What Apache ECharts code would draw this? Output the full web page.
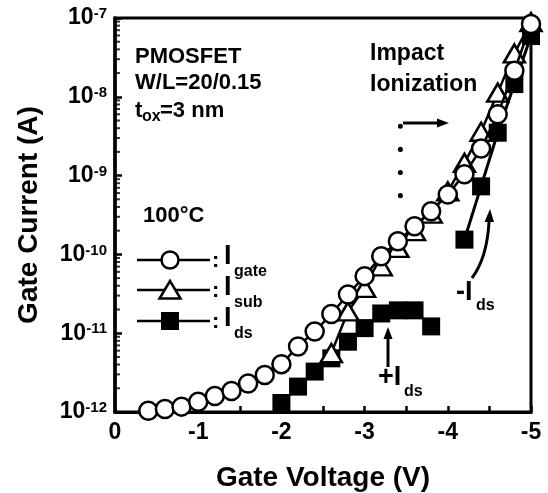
<!DOCTYPE html>
<html>
<head>
<meta charset="utf-8">
<script src="https://cdn.jsdelivr.net/npm/echarts@6/dist/echarts.min.js"></script>
<style>
  html, body { margin: 0; padding: 0; background: #fff; }
  #chart { width: 548px; height: 493px; }
</style>
</head>
<body>
<div id="chart"></div>
<script>
// Gate voltage (V) for each measured point
const gateVolts = [-0.4, -0.6, -0.8, -1.0, -1.2, -1.4, -1.6, -1.8, -2.0, -2.2, -2.4, -2.6,
    -2.8, -3.0, -3.2, -3.4, -3.6, -3.8, -4.0, -4.2, -4.4, -4.6, -4.8, -5.0];
const gateCurrent = [1.04e-12, 1.09e-12, 1.17e-12, 1.35e-12, 1.6e-12, 1.85e-12, 2.3e-12, 2.95e-12,
    4.05e-12, 6.8e-12, 1.05e-11, 1.75e-11, 3.1e-11, 5.3e-11, 9.5e-11, 1.47e-10, 2.28e-10,
    3.53e-10, 5.77e-10, 1.04e-9, 2.2e-9, 6.0e-9, 2.14e-8, 8.4e-8];

const subVolts = [-2.6, -2.8, -3.0, -3.2, -3.4, -3.6, -3.8, -4.0, -4.2, -4.4, -4.6, -4.8, -5.0];
const subCurrent = [5.6e-12, 1.89e-11, 3.75e-11, 7.06e-11, 1.21e-10, 1.97e-10, 3.3e-10, 6.3e-10,
    1.45e-9, 3.6e-9, 1.13e-8, 3.55e-8, 8.9e-8];

// +Ids branch (low bias) and -Ids branch (impact ionization)
const dsPosVolts = [-2.0, -2.2, -2.4, -2.6, -2.8, -3.0, -3.2, -3.4, -3.6, -3.8];
const dsPosCurrent = [1.3e-12, 2.1e-12, 3.26e-12, 4.8e-12, 7.8e-12, 1.16e-11, 1.78e-11, 1.95e-11, 1.95e-11, 1.22e-11];
const dsNegVolts = [-4.2, -4.4, -4.6, -4.8, -5.0];
const dsNegCurrent = [1.54e-10, 7.3e-10, 3.5e-9, 1.45e-8, 5.9e-8];

// impact ionization onset marker
const onsetVolts = [-3.43, -3.43];
const onsetCurrent = [4.23e-9, 5.43e-10];

const xTicks = [0, -1, -2, -3, -4, -5];
const yDecades = [-12, -11, -10, -9, -8, -7];
const minorMult = [2, 3, 4, 5, 6, 7, 8, 9];

const FONT = '"Liberation Sans", Arial, sans-serif';
const INK = '#000';

function pairs(xs, ys) {
    return xs.map((x, i) => [x, ys[i]]);
}

const minorTicks = [];
yDecades.slice(0, -1).forEach(e => {
    minorMult.forEach(m => minorTicks.push([0, m * Math.pow(10, e)]));
});

function txt(x, y, s, size, align) {
    return {
        type: 'text', x: x, y: y, z: 50,
        style: {
            text: s, fill: INK, align: align || 'left', verticalAlign: 'middle',
            font: 'bold ' + size + 'px ' + FONT
        }
    };
}

function line(x1, y1, x2, y2, w) {
    return {
        type: 'line', z: 50,
        shape: { x1: x1, y1: y1, x2: x2, y2: y2 },
        style: { stroke: INK, lineWidth: w || 3 }
    };
}

function head(points) {
    return { type: 'polygon', z: 50, shape: { points: points }, style: { fill: INK } };
}

const chart = echarts.init(document.getElementById('chart'), null, { renderer: 'canvas' });

const markerBase = {
    type: 'line',
    animation: false,
    clip: false,
    emphasis: { disabled: true },
    lineStyle: { color: INK, width: 2.5 }
};

chart.setOption({
    animation: false,
    backgroundColor: '#fff',
    grid: {
        left: 115, right: 17, top: 18, bottom: 81,
        containLabel: false, outerBoundsMode: 'none',
        show: true, borderColor: INK, borderWidth: 3
    },
    xAxis: {
        type: 'value', inverse: true, min: -5, max: 0, interval: 1,
        name: 'Gate Voltage (V)', nameLocation: 'middle', nameGap: 52,
        nameTextStyle: { fontFamily: FONT, fontWeight: 'bold', fontSize: 28, color: INK },
        axisLine: { show: true, lineStyle: { color: INK, width: 3 } },
        axisTick: { inside: true, length: 6, lineStyle: { color: INK, width: 2.5 } },
        minorTick: { show: true, splitNumber: 2, length: 6, lineStyle: { color: INK, width: 2.5 } },
        splitLine: { show: false },
        axisLabel: {
            margin: 9, fontFamily: FONT, fontWeight: 'bold', fontSize: 23, color: INK,
            formatter: v => xTicks.indexOf(v) >= 0 ? String(v) : ''
        }
    },
    yAxis: {
        type: 'log', logBase: 10, min: 1e-12, max: 1e-7,
        name: 'Gate Current (A)', nameLocation: 'middle', nameGap: 72,
        nameTextStyle: { fontFamily: FONT, fontWeight: 'bold', fontSize: 28, color: INK },
        axisLine: { show: true, lineStyle: { color: INK, width: 3.5 } },
        axisTick: { inside: true, length: 7, lineStyle: { color: INK, width: 2.5 } },
        splitLine: { show: false },
        axisLabel: {
            margin: 8,
            formatter: v => '{b|10}{s|' + Math.round(Math.log10(v)) + '}',
            rich: {
                b: { fontFamily: FONT, fontWeight: 'bold', fontSize: 23, color: INK },
                s: { fontFamily: FONT, fontWeight: 'bold', fontSize: 15, color: INK, verticalAlign: 'top' }
            }
        }
    },
    series: [
        {
            // log-scale minor ticks on the left axis
            type: 'scatter', name: 'minor', silent: true, animation: false, z: 6, clip: false,
            data: minorTicks, symbol: 'rect', symbolSize: [5, 2], symbolOffset: [2.5, 0],
            itemStyle: { color: INK }, emphasis: { disabled: true }
        },
        Object.assign({}, markerBase, {
            name: '+Ids', z: 2, data: pairs(dsPosVolts, dsPosCurrent),
            symbol: 'rect', symbolSize: 18, itemStyle: { color: INK }
        }),
        Object.assign({}, markerBase, {
            name: '-Ids', z: 2, data: pairs(dsNegVolts, dsNegCurrent),
            symbol: 'rect', symbolSize: 18, itemStyle: { color: INK },
            lineStyle: { color: INK, width: 3 }
        }),
        Object.assign({}, markerBase, {
            name: 'Isub', z: 3, data: pairs(subVolts, subCurrent),
            symbol: 'triangle', symbolSize: [21, 18],
            itemStyle: { color: '#fff', borderColor: INK, borderWidth: 2.5 }
        }),
        Object.assign({}, markerBase, {
            name: 'Igate', z: 4, data: pairs(gateVolts, gateCurrent),
            symbol: 'circle', symbolSize: 18,
            itemStyle: { color: '#fff', borderColor: INK, borderWidth: 2.5 }
        }),
        {
            type: 'line', name: 'onset', animation: false, silent: true, z: 4,
            data: pairs(onsetVolts, onsetCurrent), symbol: 'none',
            lineStyle: { color: INK, width: 5, type: [0.1, 23], cap: 'round' }
        }
    ],
    graphic: [
        // device info
        txt(135, 57, 'PMOSFET', 22),
        txt(135, 83, 'W/L=20/0.15', 22),
        txt(135, 111, 't', 22),
        txt(142, 117, 'ox', 16),
        txt(160, 111, '=3 nm', 22),
        // impact ionization note
        txt(370, 54, 'Impact', 23),
        txt(370, 85, 'Ionization', 23),
        line(403, 123, 440, 123, 3),
        head([[449, 123], [437, 118.5], [437, 127.5]]),
        // legend
        txt(143, 216, '100°C', 22),
        line(137, 260, 210, 260, 2.5),
        { type: 'circle', z: 50, shape: { cx: 170, cy: 260, r: 8.5 }, style: { fill: '#fff', stroke: INK, lineWidth: 2.5 } },
        txt(212, 261, ':', 22),
        txt(224, 257, 'I', 27),
        txt(234, 272, 'gate', 16),
        line(137, 290, 210, 290, 2.5),
        { type: 'polygon', z: 50, shape: { points: [[170, 281], [180.5, 298.5], [159.5, 298.5]] }, style: { fill: '#fff', stroke: INK, lineWidth: 2.5 } },
        txt(212, 291, ':', 22),
        txt(224, 288, 'I', 27),
        txt(234, 303, 'sub', 16),
        line(137, 321, 210, 321, 2.5),
        { type: 'rect', z: 50, shape: { x: 161, y: 312, width: 18, height: 18 }, style: { fill: INK } },
        txt(212, 322, ':', 22),
        txt(224, 319, 'I', 27),
        txt(234, 334, 'ds', 16),
        // +Ids note
        line(388, 367, 388, 336, 3),
        head([[388, 327], [383.5, 339], [392.5, 339]]),
        txt(378, 378, '+I', 27),
        txt(404, 392, 'ds', 16),
        // -Ids note
        {
            type: 'bezierCurve', z: 50,
            shape: { x1: 472, y1: 278, x2: 489, y2: 222, cpx1: 487, cpy1: 258 },
            style: { stroke: INK, lineWidth: 3, fill: null }
        },
        head([[490, 209], [484.5, 222], [494, 222]]),
        txt(456, 293, '-I', 27),
        txt(476, 306, 'ds', 16)
    ]
});
</script>
</body>
</html>
